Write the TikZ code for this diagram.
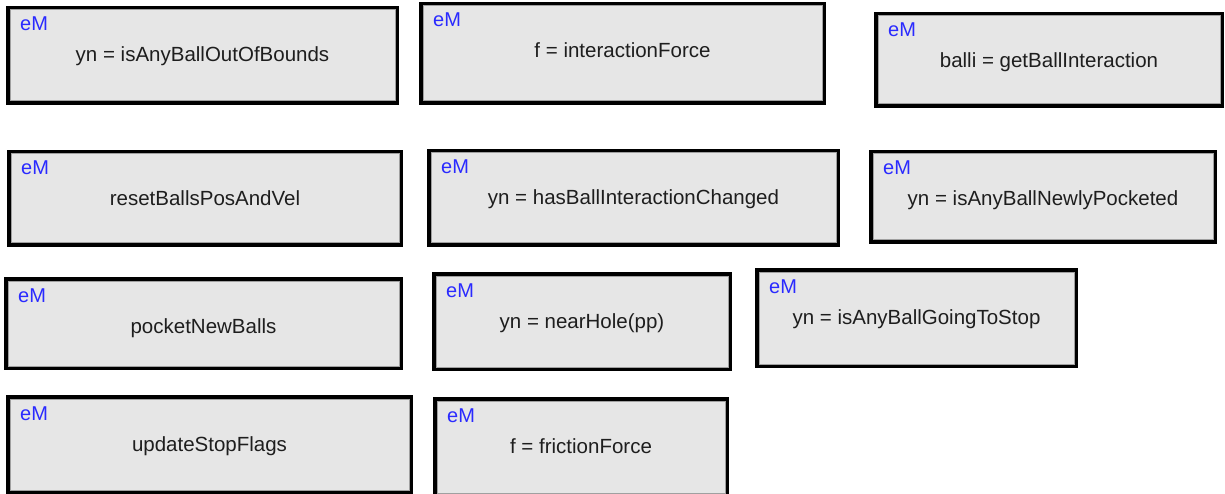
\documentclass[tikz,border=0pt]{standalone}
\usepackage{fontspec}
\setmainfont{Liberation Sans}
\definecolor{boxfill}{HTML}{E6E6E6}
\definecolor{emblue}{HTML}{2A2AFF}
\definecolor{innerline}{HTML}{A0A0A0}
\definecolor{txtcol}{HTML}{1E1E1E}
\tikzset{
  boxnode/.style={rectangle, draw=black, fill=boxfill, line width=3.5pt, inner sep=0pt, outer sep=0pt},
  emlabel/.style={text=emblue, inner sep=0pt, font=\fontsize{20}{24}\selectfont},
  mainlabel/.style={text=txtcol, inner sep=0pt, font=\fontsize{20.5}{24}\selectfont},
  innerrim/.style={draw=innerline, line width=1pt}
}
% name, x1, y1, x2, y2, text
\newcommand{\emBox}[6]{%
  \node[boxnode, minimum width={#4pt-#2pt-3.5pt}, minimum height={#5pt-#3pt-3.5pt}]
    (#1) at ({(#2+#4)/2},{(#3+#5)/2}) {};
  \draw[innerrim] ([shift={(2.25pt,-2.25pt)}]#1.north west) rectangle ([shift={(-2.25pt,2.25pt)}]#1.south east);
  \node[emlabel, anchor=base west] (#1-em) at ({#2+14},{#3+25}) {eM};
  \node[mainlabel, anchor=base] (#1-txt) at ({(#2+#4)/2},{#3+56}) {#6};
}
\begin{document}
\begin{tikzpicture}[x=1pt,y=-1pt]
\useasboundingbox[fill=white] (0,0) rectangle (1225,494);
\emBox{b1}{6}{6}{399}{105}{yn = isAnyBallOutOfBounds}
\emBox{b2}{419}{2}{826}{105}{f = interactionForce}
\emBox{b3}{874}{12}{1224}{108}{balli = getBallInteraction}
\emBox{b4}{7}{150}{403}{247}{resetBallsPosAndVel}
\emBox{b5}{427}{149}{840}{247}{yn = hasBallInteractionChanged}
\emBox{b6}{869}{150}{1217}{244}{yn = isAnyBallNewlyPocketed}
\emBox{b7}{4}{277}{403}{370}{pocketNewBalls}
\emBox{b8}{432}{272}{732}{371}{yn = nearHole(pp)}
\emBox{b9}{755}{268}{1078}{368}{yn = isAnyBallGoingToStop}
\emBox{b10}{6}{395}{413}{494}{updateStopFlags}
\emBox{b11}{433}{397}{729}{497}{f = frictionForce}
\end{tikzpicture}
\end{document}
